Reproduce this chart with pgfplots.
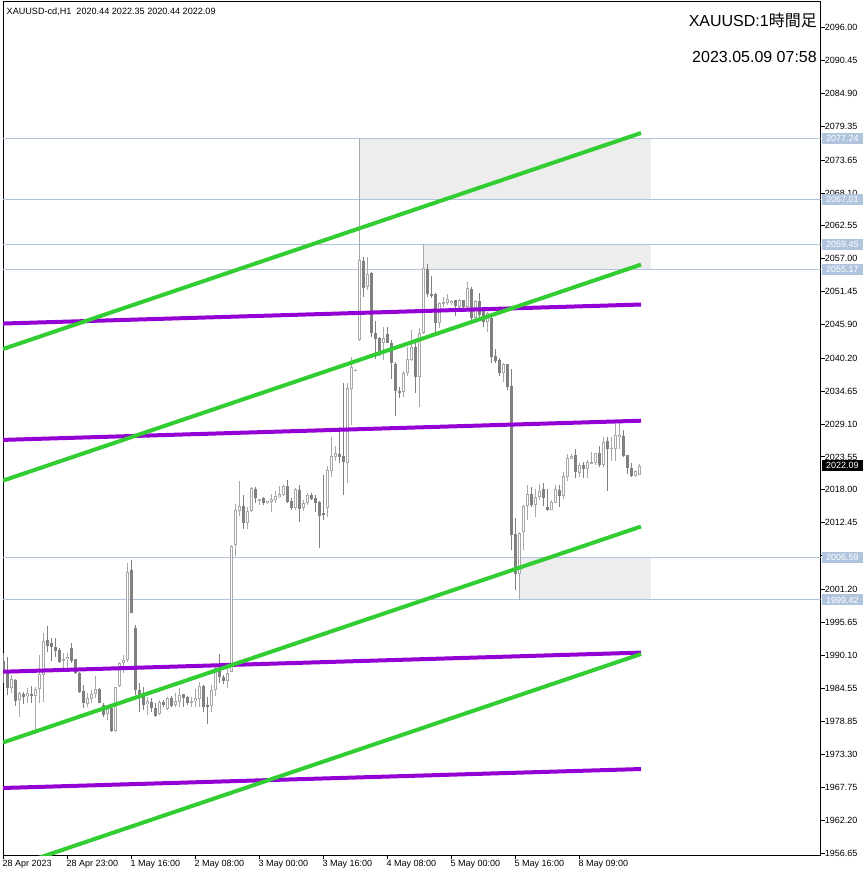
\documentclass[border=0pt]{standalone}
\usepackage{fontspec}
\setmainfont{Liberation Sans}
\newfontfamily\cjk{Noto Sans CJK JP}
\usepackage{pgfplots}
\usepackage{pgfplotstable}
\pgfplotsset{compat=1.18}

\definecolor{bullc}{RGB}{168,168,168}
\definecolor{bearc}{RGB}{128,128,128}
\definecolor{lsb}{RGB}{176,196,222}
\definecolor{boxgray}{RGB}{237,237,237}
\definecolor{trgreen}{RGB}{50,205,50}
\definecolor{trviolet}{RGB}{148,0,211}

% H1 candles, i = bar index (4 px per bar)
\pgfplotstableread{
i o h l c
2 1984.61 1986.75 1983.65 1986.07
4 1982.47 1983.82 1979.72 1983.71
6 1983.20 1984.50 1981.97 1983.65
8 1983.26 1984.78 1977.13 1984.39
9 1984.33 1990.12 1982.08 1986.92
10 1986.75 1993.78 1982.25 1992.49
15 1989.22 1990.41 1987.87 1989.50
16 1989.39 1990.41 1987.87 1989.84
21 1981.85 1983.65 1981.40 1982.81
22 1982.64 1984.22 1981.97 1983.54
23 1983.54 1986.58 1982.81 1984.33
26 1980.11 1981.69 1979.15 1980.95
28 1977.35 1984.78 1977.18 1984.67
29 1984.89 1989.00 1984.78 1988.72
30 1988.83 1990.12 1987.03 1989.28
31 1989.28 2005.60 1989.00 2004.08
36 1981.80 1983.09 1979.99 1982.42
39 1980.11 1982.53 1979.99 1982.25
41 1980.95 1983.09 1980.84 1982.81
43 1981.69 1983.77 1981.40 1982.30
44 1982.25 1984.50 1981.40 1983.32
47 1982.14 1983.09 1981.40 1982.42
48 1982.30 1984.33 1981.40 1982.87
49 1982.75 1985.62 1981.40 1984.89
52 1981.46 1985.06 1980.56 1984.22
53 1984.22 1988.27 1983.26 1987.87
56 1985.79 1988.15 1984.50 1987.14
57 1987.31 2008.69 1987.20 2008.52
58 2008.63 2015.61 2006.83 2014.60
59 2014.37 2019.49 2013.58 2015.22
61 2012.35 2015.05 2011.33 2014.37
62 2014.37 2018.54 2014.26 2018.31
64 2016.17 2016.45 2015.39 2016.45
66 2015.72 2016.17 2015.61 2016.12
67 2016.00 2017.30 2014.32 2016.51
68 2016.29 2017.80 2015.72 2016.90
69 2016.79 2018.65 2016.57 2017.24
70 2017.07 2018.82 2016.96 2018.65
73 2014.99 2018.25 2014.60 2018.09
75 2014.88 2016.29 2014.49 2015.84
76 2015.72 2017.41 2015.44 2017.13
81 2014.99 2022.02 2013.47 2021.35
82 2021.23 2026.97 2020.22 2023.71
83 2023.49 2025.40 2022.92 2024.27
86 2022.58 2036.03 2019.20 2035.14
87 2034.97 2040.37 2028.94 2038.78
88 2038.14 2038.40 2038.06 2038.31
89 2043.29 2077.24 2043.12 2056.79
91 2052.18 2057.35 2051.73 2054.43
95 2042.83 2045.53 2039.91 2043.58
100 2034.51 2038.11 2033.72 2037.77
101 2037.77 2042.16 2037.21 2040.03
102 2039.91 2044.98 2039.80 2042.16
104 2037.00 2045.26 2032.03 2044.42
105 2044.42 2059.45 2044.30 2055.39
109 2046.21 2049.75 2045.26 2049.59
110 2049.48 2050.60 2048.91 2049.75
111 2049.59 2051.05 2049.20 2050.16
112 2049.48 2050.04 2049.20 2049.87
114 2048.91 2050.16 2048.64 2050.04
116 2048.91 2053.03 2048.47 2052.02
118 2046.95 2050.04 2046.78 2049.87
121 2046.38 2048.07 2044.69 2047.79
125 2037.77 2039.36 2036.25 2039.19
129 2003.80 2010.94 1999.42 2010.66
130 2010.83 2015.44 2007.85 2015.27
131 2015.32 2018.82 2012.91 2017.30
133 2015.44 2018.09 2013.47 2016.74
134 2016.74 2018.99 2016.28 2017.80
137 2014.59 2016.28 2014.59 2016.00
138 2015.83 2018.82 2015.73 2018.09
140 2016.96 2021.06 2016.40 2020.34
141 2020.22 2024.05 2019.49 2023.32
142 2023.26 2024.05 2023.15 2023.71
144 2020.89 2022.48 2020.22 2022.19
146 2021.47 2023.04 2019.95 2022.65
147 2022.48 2024.44 2022.48 2022.65
148 2022.48 2024.27 2022.19 2024.17
150 2022.19 2026.97 2021.91 2026.02
152 2024.94 2026.97 2022.92 2025.11
153 2024.84 2029.23 2022.92 2027.26
154 2026.90 2029.23 2024.90 2027.30
158 2020.38 2021.35 2020.22 2021.23
159 2020.44 2022.35 2020.44 2022.09
}\bull

\pgfplotstableread{
i o h l c
0 1989.17 1990.41 1985.34 1987.31
1 1987.31 1989.84 1983.37 1984.50
3 1985.91 1986.02 1981.57 1982.42
5 1983.60 1983.93 1981.85 1983.09
7 1983.60 1984.89 1982.08 1983.26
11 1992.66 1995.02 1990.69 1991.64
12 1992.09 1992.94 1989.17 1991.42
13 1991.53 1992.94 1989.84 1990.80
14 1990.97 1991.25 1988.72 1989.00
17 1991.25 1992.09 1988.72 1989.17
18 1989.39 1989.50 1986.92 1987.03
19 1987.03 1987.31 1983.77 1983.93
20 1984.05 1985.06 1981.12 1982.08
24 1984.39 1984.50 1981.97 1982.08
25 1981.74 1982.08 1979.72 1979.99
27 1981.12 1981.40 1977.18 1977.30
32 2004.47 2006.16 1997.16 1997.27
33 1994.63 1995.19 1983.37 1984.22
34 1984.22 1985.34 1980.56 1982.81
35 1983.65 1984.78 1980.84 1981.69
37 1982.25 1982.81 1980.56 1981.12
38 1981.12 1981.97 1979.72 1979.88
40 1982.19 1982.53 1981.40 1981.63
42 1982.92 1983.26 1981.29 1981.52
45 1983.49 1983.60 1981.40 1982.81
46 1982.98 1983.20 1981.63 1982.08
50 1984.89 1985.00 1980.56 1981.40
51 1981.63 1983.09 1978.48 1981.46
54 1987.87 1990.29 1985.34 1986.47
55 1986.47 1986.75 1985.23 1985.79
60 2015.27 2017.13 2011.33 2012.35
63 2018.14 2018.42 2015.84 2016.57
65 2016.57 2016.85 2015.44 2015.72
71 2018.65 2019.66 2015.84 2016.00
72 2016.17 2016.57 2014.60 2014.99
74 2017.97 2018.82 2012.63 2014.77
77 2017.13 2017.52 2016.29 2016.51
78 2016.57 2017.13 2014.32 2015.84
79 2016.00 2016.17 2008.23 2013.64
80 2014.04 2020.50 2013.00 2013.81
84 2024.05 2028.55 2022.48 2023.59
85 2023.71 2036.03 2017.13 2022.75
90 2056.67 2057.35 2050.60 2052.02
92 2054.55 2054.82 2043.75 2044.42
93 2044.42 2046.50 2040.03 2043.51
94 2043.58 2043.85 2040.59 2041.04
96 2044.25 2045.53 2042.73 2042.83
97 2042.83 2043.29 2036.66 2039.36
98 2039.19 2039.53 2030.46 2034.73
99 2034.73 2035.41 2033.45 2034.39
103 2042.16 2043.00 2034.29 2037.00
106 2055.27 2056.12 2050.60 2051.00
107 2051.00 2054.09 2050.33 2050.72
108 2051.00 2051.17 2044.42 2046.21
113 2050.04 2050.04 2047.34 2049.03
115 2050.04 2050.04 2048.64 2048.91
117 2051.85 2052.29 2046.21 2046.95
119 2049.87 2051.17 2046.67 2047.51
120 2048.23 2048.35 2045.53 2046.38
122 2046.95 2047.22 2039.36 2040.47
123 2040.59 2041.72 2039.36 2039.74
124 2039.91 2040.20 2037.21 2037.77
126 2039.24 2039.24 2034.85 2035.41
127 2035.53 2038.34 2007.85 2010.38
128 2010.55 2013.20 2001.10 2003.80
132 2017.30 2018.43 2015.15 2015.44
135 2018.09 2019.10 2015.27 2016.67
136 2015.05 2018.09 2014.48 2014.59
139 2017.97 2018.82 2015.15 2016.96
143 2023.88 2024.84 2020.05 2021.01
145 2022.19 2022.75 2019.95 2021.47
149 2024.17 2025.45 2021.91 2022.19
151 2026.24 2026.97 2017.85 2024.94
155 2027.09 2028.10 2023.59 2023.76
156 2023.88 2023.88 2020.62 2021.63
157 2021.63 2022.48 2020.22 2020.38
}\bear

\pgfplotsset{
  candle/.style 2 args={draw=none, fill=none, mark=none, forget plot,
    error bars/.cd, y dir=both, y explicit, error mark=none,
    error bar style={draw=#2, line width=#1}},
  hline/.style={lsb, line width=1pt, forget plot},
  trend/.style={#1, line width=4pt, forget plot},
}
\tikzset{
  pbox/.style={anchor=west, xshift=1pt, minimum width=41pt, minimum height=11pt,
    inner sep=0pt, text=white, font=\fontsize{9}{10}\selectfont},
}

\begin{document}
\begin{tikzpicture}
\path[use as bounding box] (0pt,0pt) rectangle (866pt,876pt);
\begin{axis}[
    at={(3pt,20.7pt)}, anchor=south west,
    scale only axis, width=817.7pt, height=853.3pt,
    xmin=0, xmax=204.425, ymin=1956.32, ymax=2100.34,
    axis line style={line width=1pt},
    tick style={black, line width=1pt},
    tick align=outside, major tick length=4pt,
    xtick pos=bottom, ytick pos=right, yticklabel pos=right,
    xtick={0,16,...,144},
    xticklabels={28 Apr 2023, 28 Apr 23:00, 1 May 16:00, 2 May 08:00, 3 May 00:00,
        3 May 16:00, 4 May 08:00, 5 May 00:00, 5 May 16:00, 8 May 09:00},
    ytick={2096.00,2090.45,2084.90,2079.35,2073.65,2068.10,2062.55,2057.00,
        2051.45,2045.90,2040.20,2034.65,2029.10,2023.55,2018.00,2012.45,2006.90,
        2001.20,1995.65,1990.10,1984.55,1978.85,1973.30,1967.75,1962.20,1956.65},
    yticklabels={2096.00,2090.45,2084.90,2079.35,2073.65,2068.10,2062.55,2057.00,
        2051.45,2045.90,2040.20,2034.65,2029.10,2023.55,2018.00,2012.45,{},
        2001.20,1995.65,1990.10,1984.55,1978.85,1973.30,1967.75,1962.20,1956.65},
    tick label style={font=\fontsize{9}{10}\selectfont},
    xticklabel style={anchor=north west, inner sep=0pt, xshift=-0.5pt, yshift=-1pt},
    yticklabel style={anchor=west, inner sep=0pt},
  ]
% zones
\addplot[fill=boxgray, draw=none, forget plot] coordinates {(89,2067.01) (162,2067.01) (162,2077.24) (89,2077.24)};
\addplot[fill=boxgray, draw=none, forget plot] coordinates {(105,2055.17) (162,2055.17) (162,2059.45) (105,2059.45)};
\addplot[fill=boxgray, draw=none, forget plot] coordinates {(129,1999.42) (162,1999.42) (162,2006.59) (129,2006.59)};
% levels
\addplot[hline] coordinates {(0,2077.24) (204.425,2077.24)};
\addplot[hline] coordinates {(0,2067.01) (204.425,2067.01)};
\addplot[hline] coordinates {(0,2059.45) (204.425,2059.45)};
\addplot[hline] coordinates {(0,2055.17) (204.425,2055.17)};
\addplot[hline] coordinates {(0,2006.59) (204.425,2006.59)};
\addplot[hline] coordinates {(0,1999.42) (204.425,1999.42)};
% candles
\addplot[candle={1pt}{bullc}] table[x=i, y expr=(\thisrow{h}+\thisrow{l})/2, y error expr=(\thisrow{h}-\thisrow{l})/2] {\bull};
\addplot[candle={3pt}{bullc}] table[x=i, y expr=(\thisrow{o}+\thisrow{c})/2, y error expr={max((\thisrow{c}-\thisrow{o})/2,0.085)}] {\bull};
\addplot[candle={1pt}{white}] table[x=i, y expr=(\thisrow{o}+\thisrow{c})/2, y error expr={max((\thisrow{c}-\thisrow{o})/2-0.169,0)}] {\bull};
\addplot[candle={1pt}{bearc}] table[x=i, y expr=(\thisrow{h}+\thisrow{l})/2, y error expr=(\thisrow{h}-\thisrow{l})/2] {\bear};
\addplot[candle={3pt}{bearc}] table[x=i, y expr=(\thisrow{o}+\thisrow{c})/2, y error expr={max((\thisrow{o}-\thisrow{c})/2,0.085)}] {\bear};
% trend lines
\addplot[trend=trviolet] coordinates {(0,2046.07) (159.5,2049.28)};
\addplot[trend=trviolet] coordinates {(0,2026.43) (159.5,2029.67)};
\addplot[trend=trviolet] coordinates {(0,1987.30) (159.5,1990.53)};
\addplot[trend=trviolet] coordinates {(0,1967.68) (159.5,1970.88)};
\addplot[trend=trgreen] coordinates {(0,2041.77) (159.5,2078.23)};
\addplot[trend=trgreen] coordinates {(0,2019.56) (159.5,2056.02)};
\addplot[trend=trgreen] coordinates {(0,1975.36) (159.5,2011.81)};
\addplot[trend=trgreen] coordinates {(0,1953.84) (159.5,1990.29)};
% anchors for the price tags
\coordinate (h1) at (axis cs:204.425,2077.24);
\coordinate (h2) at (axis cs:204.425,2067.01);
\coordinate (h3) at (axis cs:204.425,2059.45);
\coordinate (h4) at (axis cs:204.425,2055.17);
\coordinate (h5) at (axis cs:204.425,2006.59);
\coordinate (h6) at (axis cs:204.425,1999.42);
\coordinate (cur) at (axis cs:204.425,2022.09);
\end{axis}
\foreach \n/\v in {h1/2077.24, h2/2067.01, h3/2059.45, h4/2055.17, h5/2006.59, h6/1999.42}
  \node[pbox, fill=lsb] at (\n) {\v};
\node[pbox, fill=black] at (cur) {2022.09};
\node[anchor=base west, inner sep=0pt, font=\fontsize{9.1}{11}\selectfont]
  at (6.5pt,861.7pt) {XAUUSD-cd,H1\ \ 2020.44 2022.35 2020.44 2022.09};
\node[anchor=base east, inner sep=0pt, font=\fontsize{16}{19}\selectfont]
  at (817pt,849pt) {XAUUSD:1{\cjk 時間足}};
\node[anchor=base east, inner sep=0pt, font=\fontsize{16}{19}\selectfont]
  at (817pt,813pt) {2023.05.09 07:58};
\end{tikzpicture}
\end{document}
